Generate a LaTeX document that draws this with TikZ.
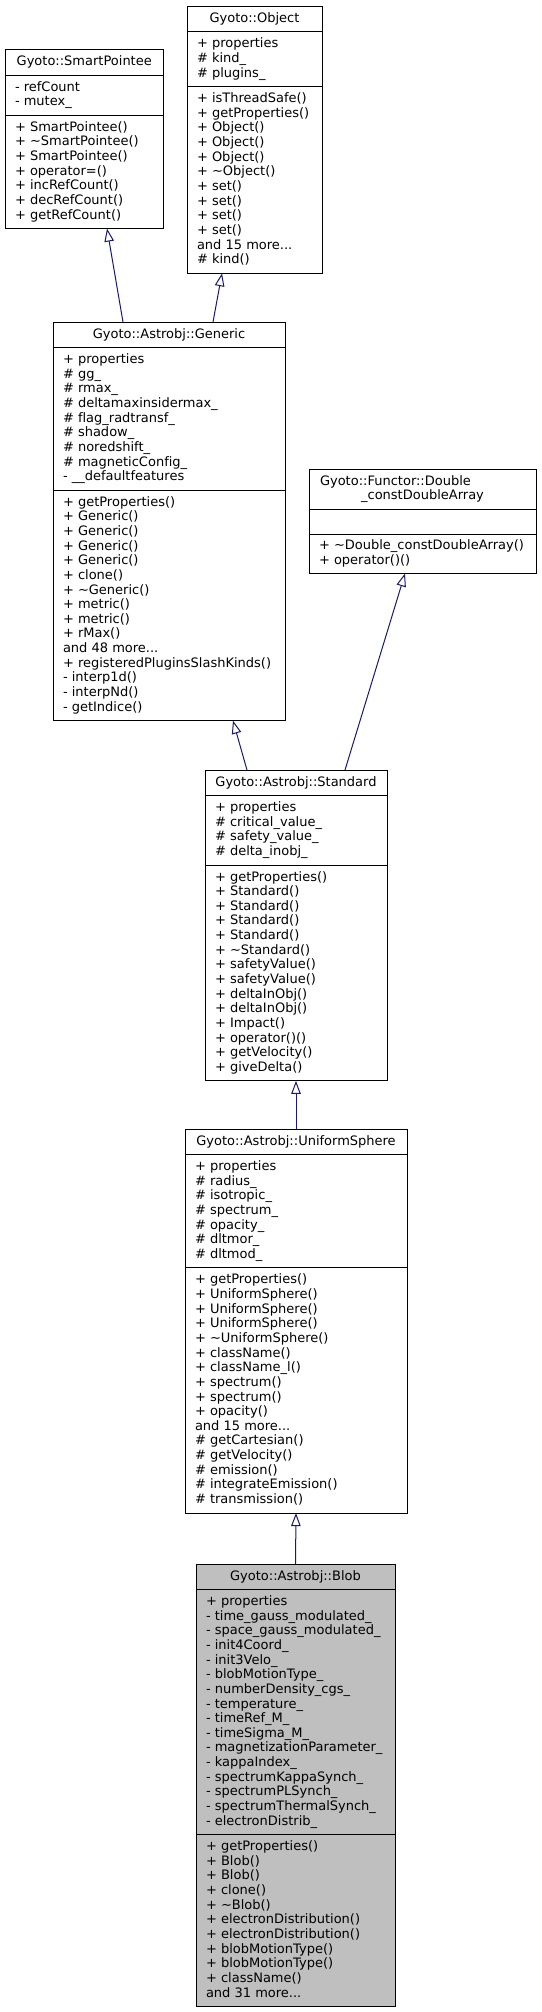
\documentclass[tikz,border=0pt]{standalone}
\usepackage{fontspec}
\setmainfont{DejaVu Sans}[Ligatures=NoCommon]
\usetikzlibrary{arrows.meta,calc}
\definecolor{edgeblue}{HTML}{191970}
\definecolor{blobgray}{HTML}{BFBFBF}
\newcommand\umlfont{\fontsize{13}{14.64}\selectfont}
\tikzset{
  clsbox/.style={draw=black, line width=1pt, fill=white, inner sep=0pt, outer sep=0pt, anchor=north west},
  boxline/.style={draw=black, line width=1pt},
  txt/.style={inner sep=0pt, outer sep=0pt, anchor=north west, align=left, font=\umlfont},
  hdr/.style={inner sep=0pt, outer sep=0pt, anchor=base, font=\umlfont},
  inh/.style={draw=edgeblue, line width=1pt, -{Triangle[length=13pt, width=9.5pt, fill=white]}},
}
\begin{document}
\begin{tikzpicture}[x=1pt,y=-1pt]
\useasboundingbox (0,0) rectangle (541,2012);
\fill[white] (0,0) rectangle (541,2012);

% ---------- Gyoto::SmartPointee ----------
\node[clsbox, minimum width=158.5pt, minimum height=179.1pt] (sp) at (5,49.5) {};
\draw[boxline] ([yshift=-25.54pt]sp.north west) -- ([yshift=-25.54pt]sp.north east);
\draw[boxline] ([yshift=-65.72pt]sp.north west) -- ([yshift=-65.72pt]sp.north east);
\node[hdr] (sp-h) at ([yshift=-16pt]sp.north) {Gyoto::SmartPointee};
\node[txt] (sp-a) at ([xshift=10pt,yshift=-31.29pt]sp.north west) {\strut- refCount\\- mutex\_};
\node[txt] (sp-m) at ([xshift=10pt,yshift=-71.47pt]sp.north west) {\strut+ SmartPointee()\\+ \textasciitilde SmartPointee()\\+ SmartPointee()\\+ operator=()\\+ incRefCount()\\+ decRefCount()\\+ getRefCount()};

% ---------- Gyoto::Object ----------
\node[clsbox, minimum width=135pt, minimum height=266.94pt] (obj) at (187,6.3) {};
\draw[boxline] ([yshift=-25.54pt]obj.north west) -- ([yshift=-25.54pt]obj.north east);
\draw[boxline] ([yshift=-80.36pt]obj.north west) -- ([yshift=-80.36pt]obj.north east);
\node[hdr] (obj-h) at ([yshift=-16pt]obj.north) {Gyoto::Object};
\node[txt] (obj-a) at ([xshift=10pt,yshift=-31.29pt]obj.north west) {\strut+ properties\\\# kind\_\\\# plugins\_};
\node[txt] (obj-m) at ([xshift=10pt,yshift=-86.11pt]obj.north west) {\strut+ isThreadSafe()\\+ getProperties()\\+ Object()\\+ Object()\\+ Object()\\+ \textasciitilde Object()\\+ set()\\+ set()\\+ set()\\+ set()\\and 15 more...\\\# kind()};

% ---------- Gyoto::Astrobj::Generic ----------
\node[clsbox, minimum width=232pt, minimum height=398.7pt] (gen) at (53,322) {};
\draw[boxline] ([yshift=-25.54pt]gen.north west) -- ([yshift=-25.54pt]gen.north east);
\draw[boxline] ([yshift=-168.2pt]gen.north west) -- ([yshift=-168.2pt]gen.north east);
\node[hdr] (gen-h) at ([yshift=-16pt]gen.north) {Gyoto::Astrobj::Generic};
\node[txt] (gen-a) at ([xshift=10pt,yshift=-31.29pt]gen.north west) {\strut+ properties\\\# gg\_\\\# rmax\_\\\# deltamaxinsidermax\_\\\# flag\_radtransf\_\\\# shadow\_\\\# noredshift\_\\\# magneticConfig\_\\- \_\_defaultfeatures};
\node[txt] (gen-m) at ([xshift=10pt,yshift=-173.95pt]gen.north west) {\strut+ getProperties()\\+ Generic()\\+ Generic()\\+ Generic()\\+ Generic()\\+ clone()\\+ \textasciitilde Generic()\\+ metric()\\+ metric()\\+ rMax()\\and 48 more...\\+ registeredPluginsSlashKinds()\\- interp1d()\\- interpNd()\\- getIndice()};

% ---------- Gyoto::Functor::Double_constDoubleArray ----------
\node[clsbox, anchor=north west, minimum width=227pt, minimum height=104.5pt] (functor) at (309,469) {};
\draw[boxline] ([yshift=-40pt]functor.north west) -- ([yshift=-40pt]functor.north east);
\draw[boxline] ([yshift=-65pt]functor.north west) -- ([yshift=-65pt]functor.north east);
\node[hdr, anchor=base west] (functor-h1) at ([xshift=11pt,yshift=-16pt]functor.north west) {Gyoto::Functor::Double};
\node[hdr] (functor-h2) at ([yshift=-30.64pt]functor.north) {\_constDoubleArray};
\node[txt] (functor-m) at ([xshift=10pt,yshift=-70.5pt]functor.north west) {\strut+ \textasciitilde Double\_constDoubleArray()\\+ operator()()};

% ---------- Gyoto::Astrobj::Standard ----------
\node[clsbox, minimum width=182pt, minimum height=310.86pt] (std) at (205,770) {};
\draw[boxline] ([yshift=-25.54pt]std.north west) -- ([yshift=-25.54pt]std.north east);
\draw[boxline] ([yshift=-95pt]std.north west) -- ([yshift=-95pt]std.north east);
\node[hdr] (std-h) at ([yshift=-16pt]std.north) {Gyoto::Astrobj::Standard};
\node[txt] (std-a) at ([xshift=10pt,yshift=-31.29pt]std.north west) {\strut+ properties\\\# critical\_value\_\\\# safety\_value\_\\\# delta\_inobj\_};
\node[txt] (std-m) at ([xshift=10pt,yshift=-100.75pt]std.north west) {\strut+ getProperties()\\+ Standard()\\+ Standard()\\+ Standard()\\+ Standard()\\+ \textasciitilde Standard()\\+ safetyValue()\\+ safetyValue()\\+ deltaInObj()\\+ deltaInObj()\\+ Impact()\\+ operator()()\\+ getVelocity()\\+ giveDelta()};

% ---------- Gyoto::Astrobj::UniformSphere ----------
\node[clsbox, minimum width=222pt, minimum height=384.06pt] (us) at (185,1129) {};
\draw[boxline] ([yshift=-25.54pt]us.north west) -- ([yshift=-25.54pt]us.north east);
\draw[boxline] ([yshift=-138.92pt]us.north west) -- ([yshift=-138.92pt]us.north east);
\node[hdr] (us-h) at ([yshift=-16pt]us.north) {Gyoto::Astrobj::UniformSphere};
\node[txt] (us-a) at ([xshift=10pt,yshift=-31.29pt]us.north west) {\strut+ properties\\\# radius\_\\\# isotropic\_\\\# spectrum\_\\\# opacity\_\\\# dltmor\_\\\# dltmod\_};
\node[txt] (us-m) at ([xshift=10pt,yshift=-144.67pt]us.north west) {\strut+ getProperties()\\+ UniformSphere()\\+ UniformSphere()\\+ UniformSphere()\\+ \textasciitilde UniformSphere()\\+ className()\\+ className\_l()\\+ spectrum()\\+ spectrum()\\+ opacity()\\and 15 more...\\\# getCartesian()\\\# getVelocity()\\\# emission()\\\# integrateEmission()\\\# transmission()};

% ---------- Gyoto::Astrobj::Blob ----------
\node[clsbox, fill=blobgray, minimum width=199pt, minimum height=442.62pt] (blob) at (196,1564) {};
\draw[boxline] ([yshift=-25.54pt]blob.north west) -- ([yshift=-25.54pt]blob.north east);
\draw[boxline] ([yshift=-270.68pt]blob.north west) -- ([yshift=-270.68pt]blob.north east);
\node[hdr] (blob-h) at ([yshift=-16pt]blob.north) {Gyoto::Astrobj::Blob};
\node[txt] (blob-a) at ([xshift=10pt,yshift=-31.29pt]blob.north west) {\strut+ properties\\- time\_gauss\_modulated\_\\- space\_gauss\_modulated\_\\- init4Coord\_\\- init3Velo\_\\- blobMotionType\_\\- numberDensity\_cgs\_\\- temperature\_\\- timeRef\_M\_\\- timeSigma\_M\_\\- magnetizationParameter\_\\- kappaIndex\_\\- spectrumKappaSynch\_\\- spectrumPLSynch\_\\- spectrumThermalSynch\_\\- electronDistrib\_};
\node[txt] (blob-m) at ([xshift=10pt,yshift=-276.43pt]blob.north west) {\strut+ getProperties()\\+ Blob()\\+ Blob()\\+ clone()\\+ \textasciitilde Blob()\\+ electronDistribution()\\+ electronDistribution()\\+ blobMotionType()\\+ blobMotionType()\\+ className()\\and 31 more...};

% ---------- inheritance connectors ----------
\draw[inh] ($(gen.north west)+(70,0)$) -- ($(sp.south west)+(102,0)$);
\draw[inh] ($(gen.north west)+(160,0)$) -- ($(obj.south west)+(35,0)$);
\draw[inh] ($(std.north west)+(42,0)$) -- ($(gen.south west)+(180,0)$);
\draw[inh] ($(std.north west)+(140,0)$) -- ($(functor.south west)+(96,0)$);
\draw[inh] (us.north) -- (std.south);
\draw[inh] (blob.north) -- (us.south);
\end{tikzpicture}
\end{document}
